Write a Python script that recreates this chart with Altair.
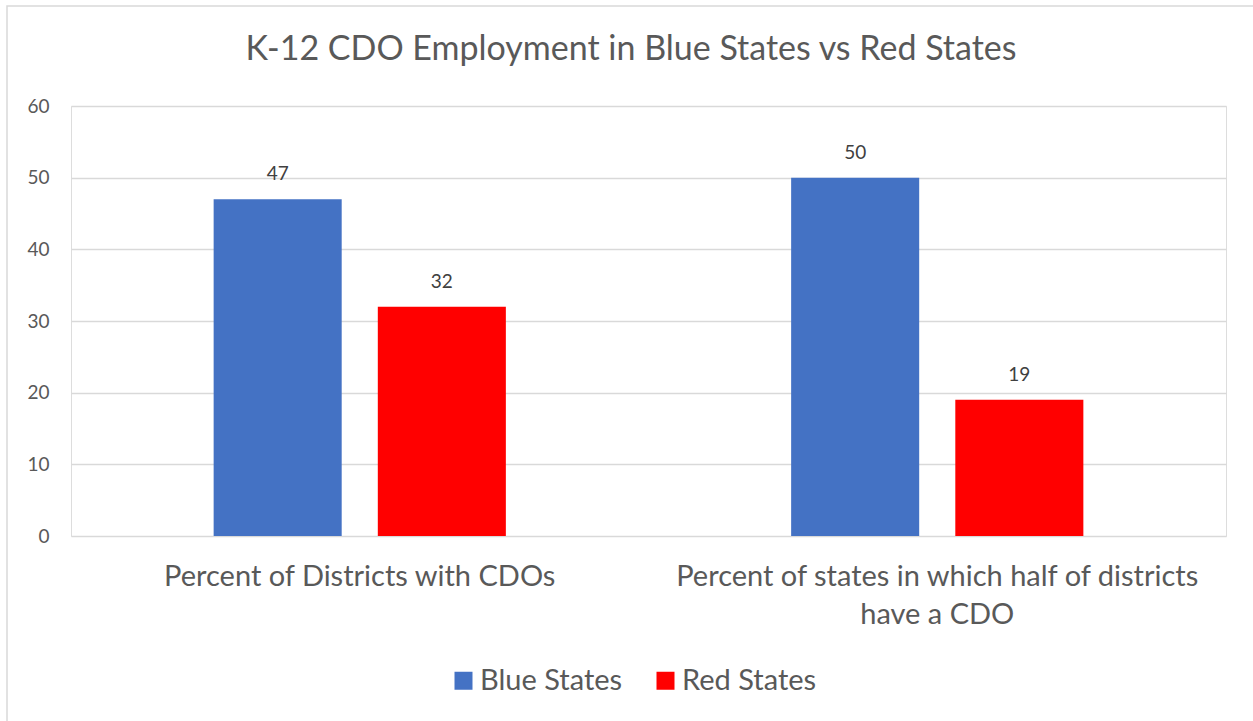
import altair as alt
import pandas as pd

title_text = "K-12 CDO Employment in Blue States vs Red States"
categories = ["Percent of Districts with CDOs", "Percent of states in which half of districts have a CDO"]
series = ["Blue States", "Red States"]
blue_values = [47, 50]
red_values = [32, 19]
colors = ["#4472C4", "#FF0000"]
y_ticks = [0, 10, 20, 30, 40, 50, 60]

rows = []
for i, c in enumerate(categories):
    rows.append({"category": c, "series": series[0], "value": blue_values[i]})
    rows.append({"category": c, "series": series[1], "value": red_values[i]})
df = pd.DataFrame(rows)

FONT = "Lato"
GRAY = "#595959"

label_expr = ("datum.label == 'Percent of states in which half of districts have a CDO' ? "
              "['Percent of states in which half of districts', 'have a CDO'] : datum.label")

x_enc = alt.X("category:N", sort=categories, title=None,
              scale=alt.Scale(paddingInner=0.494, paddingOuter=0.247),
              axis=alt.Axis(labelAngle=0, labelFontSize=29, labelColor=GRAY, labelFont=FONT,
                            labelPadding=26, labelLineHeight=38, labelExpr=label_expr,
                            domain=False, ticks=False, grid=False, labelLimit=0))
xoff = alt.XOffset("series:N", sort=series, scale=alt.Scale(paddingInner=0.22, paddingOuter=0))

base = alt.Chart(df)

bars = base.mark_bar().encode(
    x=x_enc,
    xOffset=xoff,
    y=alt.Y("value:Q", title=None,
            scale=alt.Scale(domain=[0, 60], nice=False),
            axis=alt.Axis(values=y_ticks, labelFontSize=19, labelColor=GRAY, labelFont=FONT,
                          labelPadding=22, domain=False, ticks=False,
                          gridColor="#d9d9d9", gridWidth=1.5)),
    color=alt.Color("series:N", sort=series, scale=alt.Scale(domain=series, range=colors),
                    legend=alt.Legend(title=None, orient="none", legendX=378, legendY=560,
                                      direction="horizontal", symbolType="square", symbolSize=324,
                                      symbolStrokeWidth=0, labelFontSize=29, labelColor=GRAY,
                                      labelFont=FONT, columnPadding=28, labelOffset=2)),
)

texts = base.mark_text(baseline="alphabetic", dy=-19, fontSize=19, color="#404040", font=FONT).encode(
    x=alt.X("category:N", sort=categories),
    xOffset=xoff,
    y="value:Q",
    text="value:Q",
)

border = alt.Chart(pd.DataFrame({"a": [0]})).mark_rect(
    fill=None, stroke="#d9d9d9", strokeWidth=1.5, clip=False
).encode(
    x=alt.value(-64), x2=alt.value(1300), y=alt.value(-100), y2=alt.value(700)
)

title = alt.Chart(pd.DataFrame({"t": [title_text]})).mark_text(
    fontSize=34, font=FONT, color=GRAY, baseline="middle", align="center"
).encode(
    text="t:N", x=alt.value(560), y=alt.value(-56)
)

chart = alt.layer(border, bars, texts, title).properties(
    width=1155, height=430,
    autosize=alt.AutoSizeParams(type="none"),
    padding={"left": 71, "top": 106, "right": 27, "bottom": 185},
).configure_view(stroke=None).configure(background="white")

chart.save("out.html", embed_options={"renderer": "svg", "actions": False})
